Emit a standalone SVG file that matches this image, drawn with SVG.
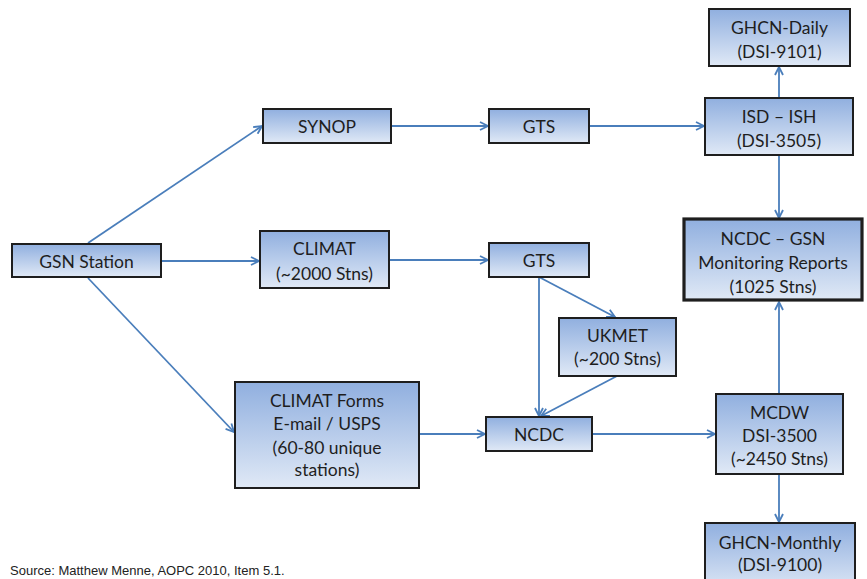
<svg xmlns="http://www.w3.org/2000/svg" width="867" height="579" viewBox="0 0 867 579">
<style>
.box{fill:url(#g);stroke:#1e1e1e;stroke-width:2}
.thick{stroke-width:3.2}
text{font-family:Lato,"Open Sans","Liberation Sans",sans-serif;font-size:17.5px;fill:#1e1e1e;text-anchor:middle;dominant-baseline:central}
.src{font-family:"Liberation Sans",Arial,sans-serif;font-size:13px;text-anchor:start;dominant-baseline:auto;fill:#222}
.c{stroke:#4a7ebb;stroke-width:1.8;fill:none;marker-end:url(#a)}
</style>
<defs>
<linearGradient id="g" x1="0" y1="0" x2="0" y2="1">
<stop offset="0" stop-color="#90afdf"/>
<stop offset="1" stop-color="#e0e9f6"/>
</linearGradient>
<marker id="a" viewBox="0 0 10 10" refX="9" refY="5" markerWidth="10" markerHeight="10" markerUnits="userSpaceOnUse" orient="auto">
<path d="M1,1 L9,5 L1,9" fill="none" stroke="#4a7ebb" stroke-width="1.8"/>
</marker>
</defs>
<rect width="867" height="579" fill="#fff"/>
<g id="connectors">
<line class="c" x1="88" y1="243" x2="262" y2="126"/>
<line class="c" x1="161" y1="261" x2="259" y2="261"/>
<line class="c" x1="88" y1="278" x2="234" y2="432"/>
<line class="c" x1="391" y1="126" x2="488" y2="126"/>
<line class="c" x1="589" y1="126" x2="704" y2="126"/>
<line class="c" x1="389" y1="260" x2="488" y2="260"/>
<line class="c" x1="539" y1="277" x2="615" y2="317"/>
<line class="c" x1="539" y1="277" x2="539" y2="416"/>
<line class="c" x1="617" y1="376" x2="541" y2="416"/>
<line class="c" x1="419" y1="434" x2="485" y2="434"/>
<line class="c" x1="592" y1="434" x2="715" y2="434"/>
<line class="c" x1="779" y1="394" x2="779" y2="302"/>
<line class="c" x1="779" y1="155" x2="779" y2="218"/>
<line class="c" x1="779" y1="98" x2="779" y2="67"/>
<line class="c" x1="779" y1="474" x2="779" y2="522"/>
</g>
<g id="gsn-station"><rect class="box" x="12" y="244" width="149" height="33"/><text x="86.5" y="261">GSN Station</text></g>
<g id="synop"><rect class="box" x="263" y="109" width="128" height="34"/><text x="327" y="126">SYNOP</text></g>
<g id="gts-top"><rect class="box" x="489" y="109" width="100" height="34"/><text x="539" y="126">GTS</text></g>
<g id="isd-ish"><rect class="box" x="705" y="98" width="148" height="57"/><text x="779" y="116">ISD – ISH</text><text x="779" y="140">(DSI-3505)</text></g>
<g id="ghcn-daily"><rect class="box" x="709" y="9" width="141" height="57"/><text x="779.5" y="27">GHCN-Daily</text><text x="779.5" y="51">(DSI-9101)</text></g>
<g id="ncdc-gsn"><rect class="box thick" x="684" y="219" width="178" height="81"/><text x="773" y="238">NCDC – GSN</text><text x="773" y="262">Monitoring Reports</text><text x="773" y="286">(1025 Stns)</text></g>
<g id="climat"><rect class="box" x="260" y="231" width="129" height="57"/><text x="324.5" y="248">CLIMAT</text><text x="324.5" y="273">(~2000 Stns)</text></g>
<g id="gts-mid"><rect class="box" x="489" y="243" width="100" height="34"/><text x="539" y="260">GTS</text></g>
<g id="ukmet"><rect class="box" x="559" y="318" width="117" height="58"/><text x="617.5" y="335">UKMET</text><text x="617.5" y="358">(~200 Stns)</text></g>
<g id="climat-forms"><rect class="box" x="235" y="382" width="184" height="106"/><text x="327" y="400">CLIMAT Forms</text><text x="327" y="423">E-mail / USPS</text><text x="327" y="447">(60-80 unique</text><text x="327" y="469">stations)</text></g>
<g id="ncdc"><rect class="box" x="486" y="417" width="106" height="34"/><text x="539" y="434">NCDC</text></g>
<g id="mcdw"><rect class="box" x="716" y="394" width="127" height="80"/><text x="779.5" y="412">MCDW</text><text x="779.5" y="435">DSI-3500</text><text x="779.5" y="458">(~2450 Stns)</text></g>
<g id="ghcn-monthly"><rect class="box" x="705" y="523" width="150" height="70"/><text x="780" y="542">GHCN-Monthly</text><text x="780" y="564">(DSI-9100)</text></g>
<text class="src" x="10" y="575">Source: Matthew Menne, AOPC 2010, Item 5.1.</text>
</svg>
